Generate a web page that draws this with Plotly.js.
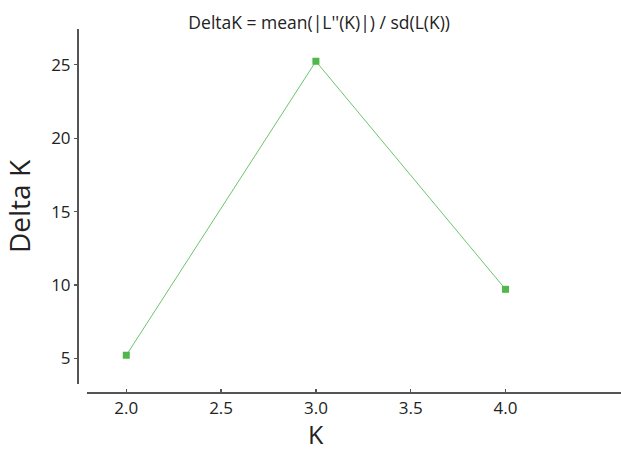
<!DOCTYPE html>
<html>
<head>
<meta charset="utf-8">
<script src="https://cdn.plot.ly/plotly-3.0.1.min.js"></script>
<style>html,body{margin:0;padding:0;background:#fff;}#chart{width:621px;height:451px;}</style>
</head>
<body>
<div id="chart"></div>
<script>
const K = [2, 3, 4];
const deltaK = [5.22, 25.23, 9.71];
const xTicks = [2.0, 2.5, 3.0, 3.5, 4.0];
const xTickText = ['2.0', '2.5', '3.0', '3.5', '4.0'];
const yTicks = [5, 10, 15, 20, 25];

const font = 'Open Sans, Lato, sans-serif';

const trace = {
  x: K, y: deltaK,
  type: 'scatter', mode: 'lines+markers',
  line: {color: '#6cc46c', width: 1},
  marker: {symbol: 'square', size: 7, color: '#50b848'},
  hoverinfo: 'x+y'
};

const layout = {
  width: 621, height: 451,
  margin: {l: 78, r: 0, t: 29, b: 58, pad: 0},
  paper_bgcolor: '#fff', plot_bgcolor: '#fff',
  showlegend: false,
  font: {family: font, color: '#222'},
  title: {
    text: "DeltaK = mean(|L''(K)|) / sd(L(K))",
    font: {family: font, size: 17.5, color: '#222'},
    xref: 'container', x: 0.514, xanchor: 'center',
    yref: 'container', y: 1 - 23/451, yanchor: 'middle'
  },
  xaxis: {
    domain: [0.0171, 1],
    anchor: 'free', position: 0,
    range: [1.7943, 4.609],
    tickvals: xTicks, ticktext: xTickText,
    ticks: 'inside', ticklen: 3, tickwidth: 1.3, tickcolor: '#555',
    showline: true, linecolor: '#555', linewidth: 2,
    showgrid: false, zeroline: false,
    tickfont: {family: font, size: 17, color: '#222'}
  },
  yaxis: {
    domain: [0.0247, 1],
    anchor: 'free', position: 0,
    range: [3.264, 27.43],
    tickvals: yTicks,
    ticks: 'outside', ticklen: 3, tickwidth: 1.3, tickcolor: '#555',
    showline: true, linecolor: '#555', linewidth: 2,
    showgrid: false, zeroline: false,
    tickfont: {family: font, size: 17, color: '#222'},
    title: {text: 'Delta K', font: {family: font, size: 28, color: '#222'}, standoff: 12}
  },
  annotations: [{
    text: 'K', xref: 'paper', yref: 'paper',
    x: (316 - 78) / 543, y: -(434 - 393) / 364,
    xanchor: 'center', yanchor: 'middle', showarrow: false,
    font: {family: font, size: 25, color: '#222'}
  }]
};

Plotly.newPlot('chart', [trace], layout, {displayModeBar: false, staticPlot: true});
</script>
</body>
</html>
